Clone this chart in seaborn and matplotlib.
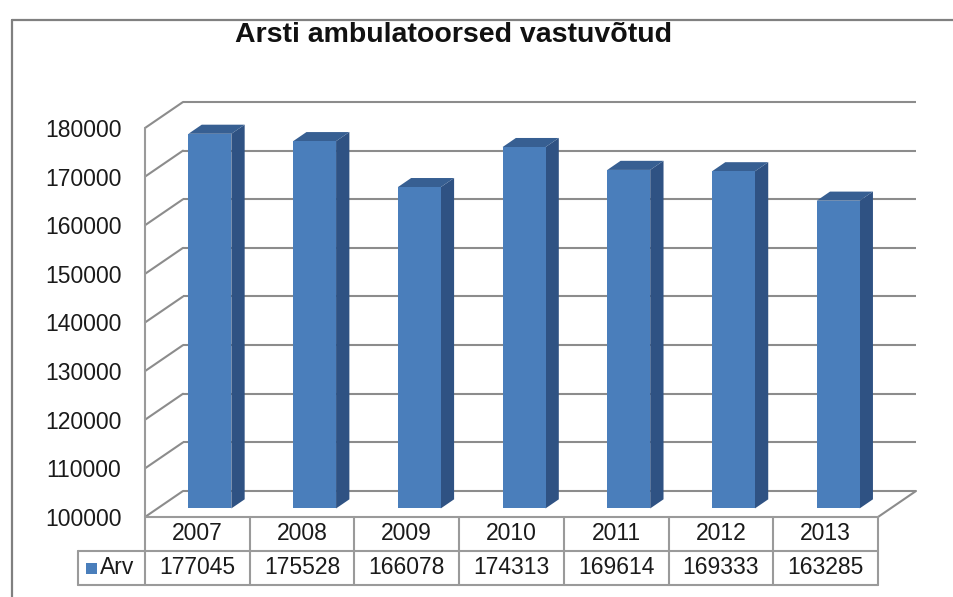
import matplotlib
matplotlib.use("Agg")
import matplotlib.pyplot as plt
import matplotlib.transforms as mtransforms
from matplotlib.patches import Polygon, Rectangle
from matplotlib.lines import Line2D
import seaborn as sns
import numpy as np

# data
years = ["2007", "2008", "2009", "2010", "2011", "2012", "2013"]
counts = [177045, 175528, 166078, 174313, 169614, 169333, 163285]
series_name = "Arv"
title = "Arsti ambulatoorsed vastuvõtud"

front_col = "#4a7ebb"
side_col = "#2f5283"
top_col = "#375f92"
grid_col = "#8c8c8c"
text_col = "#1a1a1a"

sns.set_theme(style="white")
plt.rcParams["font.family"] = ["Liberation Sans", "DejaVu Sans"]

W, H = 954, 597
fig = plt.figure(figsize=(W / 100, H / 100), dpi=100)

# front plane of the 3d box, in pixels
left, right, top, bottom = 145, 878, 128, 517
ax = fig.add_axes([left / W, (H - bottom) / H, (right - left) / W, (bottom - top) / H])
ymin, ymax = 100000, 180000
ax.set_xlim(-0.5, len(years) - 0.5)
ax.set_ylim(ymin, ymax)

# depth vector (38 px right, 26 px up) in data units
px_x = (right - left) / len(years)
px_y = (bottom - top) / (ymax - ymin)
DX = 38 / px_x
DY = 26 / px_y

sns.barplot(x=years, y=counts, ax=ax, color=front_col, width=0.41,
            saturation=1, edgecolor="none", zorder=3)

f0, f1 = 0.33, 0.68
for bar, v in zip(ax.containers[0], counts):
    x0 = bar.get_x() + f0 * DX
    w = bar.get_width()
    y0 = ymin + f0 * DY
    y1 = v + f0 * DY
    bar.set_x(x0)
    bar.set_y(y0)
    bar.set_height(y1 - y0)
    bar.set_clip_on(False)
    dx, dy = (f1 - f0) * DX, (f1 - f0) * DY
    x1 = x0 + w
    ax.add_patch(Polygon([(x1, y0), (x1, y1), (x1 + dx, y1 + dy), (x1 + dx, y0 + dy)],
                         closed=True, fc=side_col, ec="none", zorder=2, clip_on=False))
    ax.add_patch(Polygon([(x0, y1), (x1, y1), (x1 + dx, y1 + dy), (x0 + dx, y1 + dy)],
                         closed=True, fc=top_col, ec="none", zorder=2, clip_on=False))

# walls: back gridlines + left wall diagonals
xl, xr = -0.5, len(years) - 0.5
ticks = np.arange(ymin, ymax + 1, 10000)
for t in ticks:
    ax.plot([xl + DX, xr + DX], [t + DY, t + DY], color=grid_col, lw=1.5,
            zorder=0, clip_on=False, solid_capstyle="butt")
    ax.plot([xl, xl + DX], [t, t + DY], color=grid_col, lw=1.5, zorder=0, clip_on=False)
ax.plot([xr, xr + DX], [ymin, ymin + DY], color=grid_col, lw=1.5, zorder=0, clip_on=False)

for s in ax.spines.values():
    s.set_visible(False)
ax.set_xticks([])
ax.set_yticks(ticks)
ax.set_yticklabels([f"{int(t)}" for t in ticks], fontsize=16.5, color=text_col)
ax.tick_params(axis="y", length=0, pad=17)
ax.set_xlabel("")
ax.set_ylabel("")
ax.patch.set_alpha(0)

# data table below the plot
tr = mtransforms.blended_transform_factory(ax.transData, ax.transAxes)
rh = 34 / (bottom - top)
x_lab = xl - 67 / px_x
tab_kw = dict(color="#9a9a9a", lw=1.5, transform=tr, clip_on=False, zorder=1)
ax.add_line(Line2D([xl, xl], [-2 * rh, 1], **tab_kw))
ax.add_line(Line2D([xl, xr], [0, 0], **tab_kw))
ax.add_line(Line2D([x_lab, xr], [-rh, -rh], **tab_kw))
ax.add_line(Line2D([x_lab, xr], [-2 * rh, -2 * rh], **tab_kw))
ax.add_line(Line2D([x_lab, x_lab], [-rh, -2 * rh], **tab_kw))
for k in range(1, len(years) + 1):
    ax.add_line(Line2D([xl + k, xl + k], [0, -2 * rh], **tab_kw))

for i, (yr, v) in enumerate(zip(years, counts)):
    ax.text(i, -0.5 * rh, yr, transform=tr, ha="center", va="center",
            fontsize=16.5, color=text_col)
    ax.text(i, -1.5 * rh, f"{v}", transform=tr, ha="center", va="center",
            fontsize=16.5, color=text_col)

sq = 11 / px_x
ax.add_patch(Rectangle((x_lab + 8 / px_x, -1.5 * rh - 5.5 / (bottom - top)), sq, 11 / (bottom - top),
                       transform=tr, fc=front_col, ec="none", clip_on=False))
ax.text(x_lab + 22 / px_x, -1.5 * rh, series_name, transform=tr, ha="left", va="center",
        fontsize=16.5, color=text_col)

# chart border and title
fig.add_artist(Line2D([12 / W, 12 / W], [0, 1 - 20 / H], color="#808080", lw=1.6))
fig.add_artist(Line2D([12 / W, 1], [1 - 20 / H, 1 - 20 / H], color="#808080", lw=1.6))
fig.text(454 / W, 1 - 42 / H, title, ha="center", va="baseline", fontsize=20.5,
         fontweight="bold", color="#111111")

fig.savefig("out.png", dpi=100)
